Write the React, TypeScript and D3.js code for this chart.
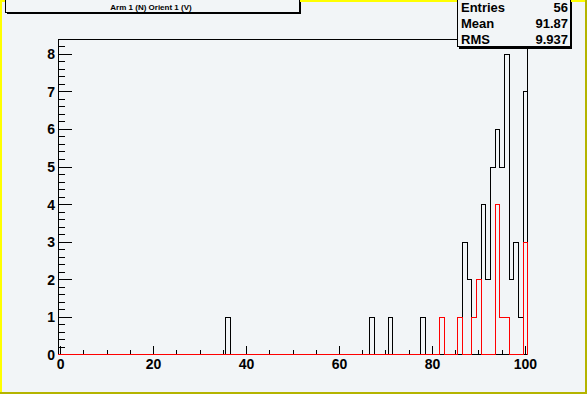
import React from "react";
import * as d3 from "d3";

const W = 587;
const H = 394;

const titleText = "Arm 1 (N) Orient 1 (V)";
const statLabels = ["Entries", "Mean", "RMS"];
const statValues = ["56", "91.87", "9.937"];

const xTicksMajor = [0, 20, 40, 60, 80, 100];
const yTicksMajor = [0, 1, 2, 3, 4, 5, 6, 7, 8];

// black histogram (bin centre -> count)
const blackBins = [36, 67, 71, 78, 87, 88, 91, 92, 93, 94, 95, 96, 97, 98, 99, 100];
const blackCounts = [1, 1, 1, 1, 3, 2, 4, 2, 5, 6, 5, 8, 2, 3, 1, 7];
// red histogram
const redBins = [82, 86, 89, 90, 94, 95, 96, 100];
const redCounts = [1, 1, 1, 2, 4, 1, 1, 3];

const NBINS = 101; // bins centred on 0..100, width 1

function fullBins(bins: number[], counts: number[]) {
  const arr = new Array(NBINS).fill(0);
  bins.forEach((b, i) => (arr[b] = counts[i]));
  return arr;
}

export default function App() {
  const left = 58.3, right = 527.7, top = 39.3, bottom = 354.8;
  const x = d3.scaleLinear().domain([-0.5, 100.5]).range([left, right]);
  const y = d3.scaleLinear().domain([0, 8.4]).range([bottom, top]);

  const stepPath = (counts: number[]) => {
    const pts: [number, number][] = [[-0.5, 0]];
    counts.forEach((c, i) => pts.push([i - 0.5, c]));
    pts.push([100.5, counts[counts.length - 1]]);
    pts.push([100.5, 0]);
    return d3
      .line<[number, number]>()
      .x((d) => x(d[0]))
      .y((d) => y(d[1]))
      .curve(d3.curveStepAfter)(pts) as string;
  };

  const black = fullBins(blackBins, blackCounts);
  const red = fullBins(redBins, redCounts);

  const yMinor = d3.range(0, 8.41, 0.2);
  const xMinor = d3.range(0, 100.01, 5);

  const font = "'Liberation Sans', Arial, Helvetica, sans-serif";

  return (
    <svg
      width={W}
      height={H}
      style={{ position: "absolute", left: 0, top: 0 }}
      fontFamily={font}
    >
      <rect x={0} y={0} width={W} height={H} fill="#f2f5f7" />
      {/* canvas bevel border */}
      <rect x={0} y={0} width={W} height={2} fill="#ffff00" />
      <rect x={0} y={0} width={2} height={H} fill="#ffff00" />
      <rect x={0} y={H - 2} width={W} height={2} fill="#b4b400" />
      <rect x={W - 2} y={0} width={2} height={H} fill="#b4b400" />

      {/* frame */}
      <g shapeRendering="crispEdges" stroke="#000" strokeWidth={1}>
        <line x1={left} y1={top} x2={right} y2={top} />
        <line x1={right} y1={top} x2={right} y2={bottom} />
        <line x1={left} y1={top} x2={left} y2={bottom} />
        <line x1={left} y1={bottom} x2={right} y2={bottom} />
      </g>

      {/* y ticks */}
      <g shapeRendering="crispEdges" stroke="#000">
        {yMinor.map((v, i) => {
          const major = Math.abs(v - Math.round(v)) < 1e-6;
          return (
            <line key={i} x1={left} x2={left + (major ? 14 : 7)} y1={y(v)} y2={y(v)} />
          );
        })}
      </g>
      {yTicksMajor.map((v) => (
        <text
          key={v}
          x={55}
          y={y(v) + 5}
          textAnchor="end"
          fontSize={14}
          fontWeight="bold"
        >
          {v}
        </text>
      ))}

      {/* x ticks */}
      <g shapeRendering="crispEdges" stroke="#000">
        {xMinor.map((v, i) => {
          const major = v % 20 === 0;
          return (
            <line key={i} x1={x(v)} x2={x(v)} y1={bottom} y2={bottom - (major ? 9 : 5)} />
          );
        })}
      </g>
      {xTicksMajor.map((v) => (
        <text
          key={v}
          x={x(v)}
          y={368.5}
          textAnchor="middle"
          fontSize={14}
          fontWeight="bold"
        >
          {v}
        </text>
      ))}

      {/* histograms */}
      <path d={stepPath(black)} fill="none" stroke="#000" strokeWidth={1} shapeRendering="crispEdges" />
      <path d={stepPath(red)} fill="none" stroke="#ff0000" strokeWidth={1} shapeRendering="crispEdges" />

      {/* title box */}
      <rect x={7} y={2} width={294} height={12} fill="#000" />
      <rect x={5} y={-1} width={294} height={13} fill="#f2f5f7" stroke="#000" strokeWidth={1} shapeRendering="crispEdges" />
      <text x={151} y={9.5} textAnchor="middle" fontSize={8} fontWeight="bold">
        {titleText}
      </text>

      {/* stats box */}
      <rect x={459} y={2} width={113} height={47} fill="#000" />
      <rect x={457} y={-1} width={113} height={47.5} fill="#f2f5f7" stroke="#000" strokeWidth={1} shapeRendering="crispEdges" />
      {statLabels.map((s, i) => (
        <g key={s}>
          <text x={461} y={11.5 + i * 16.3} fontSize={13} fontWeight="bold">
            {s}
          </text>
          <text x={568} y={11.5 + i * 16.3} fontSize={13} fontWeight="bold" textAnchor="end">
            {statValues[i]}
          </text>
        </g>
      ))}
    </svg>
  );
}
